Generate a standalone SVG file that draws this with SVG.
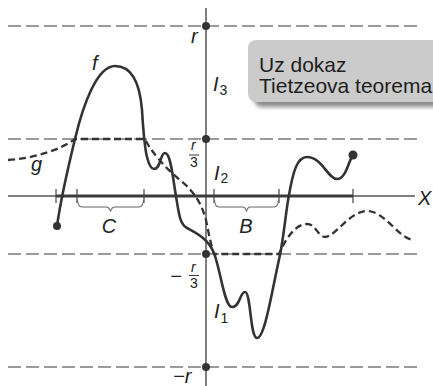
<svg xmlns="http://www.w3.org/2000/svg" width="433" height="386" viewBox="0 0 433 386">
<style>
.lvl{stroke:#7a7a7a;stroke-width:1.3;stroke-dasharray:13 5;fill:none}
.ax{stroke:#555;stroke-width:1.5;fill:none}
.tick{stroke:#444;stroke-width:1.2}
.brace{stroke:#666;stroke-width:1.1;fill:none}
.f{stroke:#333;stroke-width:2.6;fill:none;stroke-linejoin:round;stroke-linecap:round}
.g{stroke:#333;stroke-width:2.3;fill:none;stroke-dasharray:7 4}
.dot{fill:#333}
.m{font-family:"Liberation Sans",Arial,sans-serif;font-style:italic;font-size:20px;fill:#222}
.fr{font-family:"Liberation Sans",Arial,sans-serif;font-size:14px;fill:#222}
.fri{font-family:"Liberation Sans",Arial,sans-serif;font-style:italic;font-size:14px;fill:#222}
.sub{font-family:"Liberation Sans",Arial,sans-serif;font-style:normal;font-size:14px}
.box{font-family:"Liberation Sans",Arial,sans-serif;font-size:21px;fill:#1e1e1e}
</style>
<defs>
<filter id="sh" x="-10%" y="-20%" width="130%" height="160%"><feGaussianBlur stdDeviation="2"/></filter>
</defs>
<rect width="433" height="386" fill="#fff"/>

<g id="levels">
<line class="lvl" x1="8" y1="26" x2="418" y2="26"/>
<line class="lvl" x1="8" y1="139" x2="418" y2="139"/>
<line class="lvl" x1="8" y1="254" x2="418" y2="254"/>
<line class="lvl" x1="8" y1="367" x2="418" y2="367"/>
</g>

<g id="axes">
<line class="ax" x1="206" y1="8" x2="206" y2="386"/>
<line class="ax" x1="8" y1="196" x2="415" y2="196"/>
<line x1="56" y1="196" x2="353" y2="196" stroke="#3a3a3a" stroke-width="3.2"/>
<line class="tick" x1="56" y1="189" x2="56" y2="203"/>
<line class="tick" x1="77" y1="189" x2="77" y2="203"/>
<line class="tick" x1="144" y1="189" x2="144" y2="203"/>
<line class="tick" x1="214" y1="189" x2="214" y2="203"/>
<line class="tick" x1="279" y1="189" x2="279" y2="203"/>
<line class="tick" x1="353" y1="189" x2="353" y2="203"/>
<path class="brace" d="M77.5,200 Q78,207 82,207 L106,207 Q109,207 110.5,211 Q112,207 115,207 L139,207 Q143,207 143.5,200"/>
<path class="brace" d="M214.5,200 Q215,207 219,207 L243,207 Q245,207 246.5,211 Q248,207 250,207 L274,207 Q278,207 278.5,200"/>
<circle class="dot" cx="206" cy="26" r="4"/>
<circle class="dot" cx="206" cy="139" r="4"/>
<circle class="dot" cx="206" cy="254" r="4"/>
<circle class="dot" cx="206" cy="367" r="4"/>
</g>

<g id="note">
<rect x="254" y="47" width="200" height="60" rx="8" fill="#8a8a8a" filter="url(#sh)"/>
<rect x="248" y="40" width="200" height="62" rx="8" fill="#cbcbcb"/>
<text class="box" x="259" y="72">Uz dokaz</text>
<text class="box" x="259" y="93">Tietzeova teorema</text>
</g>

<g id="curve-g">
<path class="g" d="M8,160 C35,158 60,150 75,139 L145,139 C150,150 165,168 180,180 C195,192 202,205 206,220 C209,235 211,245 214,254 L279,254 C285,240 295,224 307,224 C316,224 318,237 325,237 C335,237 350,211 367,211 C385,211 398,238 413,240"/>
</g>

<g id="curve-f">
<path class="f" d="M57,226 C59,212 65,180 75,139 C83,105 97,66 115,66 C133,66 140,85 142,110 C143,125 144,145 147,157 C149,165 151,169 154,169 C161,169 160,153 165,153 C171,153 173,180 176,196 C179,215 180,224 187,228 C196,233 207,238 213,251 C220,265 224,307 232,307 C240,307 240,292 245,292 C251,292 250,338 257,338 C265,338 272,290 280,255 C284,235 286,210 289,195 C293,172 297,157 307,157 C322,157 328,179 337,179 C346,179 348,162 353,155"/>
<circle class="dot" cx="57" cy="226" r="4"/>
<circle class="dot" cx="353" cy="155" r="4.5"/>
</g>

<g id="labels">
<text class="m" x="92" y="70">f</text>
<text class="m" x="31" y="171">g</text>
<text class="m" x="109" y="233" text-anchor="middle">C</text>
<text class="m" x="246" y="233" text-anchor="middle">B</text>
<text class="m" x="418" y="205">X</text>
<text class="m" x="191" y="43">r</text>
<text class="m" x="173" y="383">−r</text>
<text class="m" x="213" y="91">I<tspan class="sub" dx="1" dy="4">3</tspan></text>
<text class="m" x="214" y="180">I<tspan class="sub" dx="1" dy="3">2</tspan></text>
<text class="m" x="214" y="318">I<tspan class="sub" dx="1" dy="5">1</tspan></text>
<text class="fri" x="191" y="150">r</text>
<line x1="189" y1="155" x2="199" y2="155" stroke="#222" stroke-width="0.9"/>
<text class="fr" x="190" y="167">3</text>
<text class="m" x="170" y="283">−</text>
<text class="fri" x="191" y="272">r</text>
<line x1="189" y1="275.5" x2="199" y2="275.5" stroke="#222" stroke-width="0.9"/>
<text class="fr" x="190" y="288">3</text>
</g>
</svg>
